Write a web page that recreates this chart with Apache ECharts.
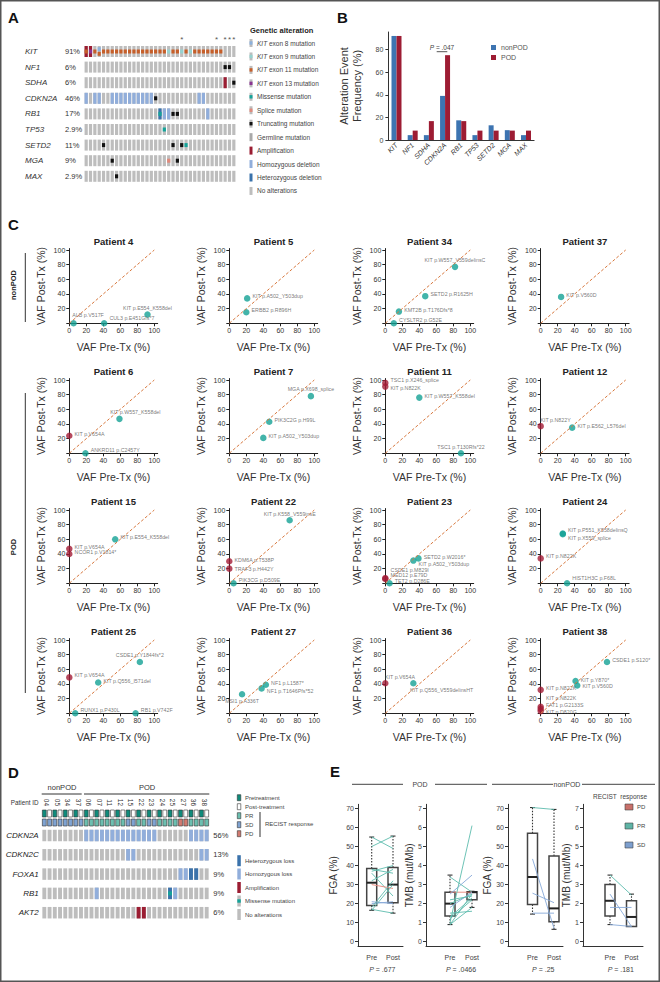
<!DOCTYPE html>
<html>
<head>
<meta charset="UTF-8">
<title>Figure</title>
<script src="https://cdn.jsdelivr.net/npm/echarts@6.0.0/dist/echarts.min.js"></script>
<style>
html, body { margin: 0; padding: 0; background: #fff; }
#fig { width: 660px; height: 982px; }
</style>
</head>
<body>
<div id="fig"></div>
<script>
var FONT = '"Liberation Sans", Arial, sans-serif';
var RED = '#a31c36', TEAL = '#14a195';

// ---- A: oncoprint (35 samples) ----
var aGenes = ['KIT', 'NF1', 'SDHA', 'CDKN2A', 'RB1', 'TP53', 'SETD2', 'MGA', 'MAX'];
var aPct = ['91%', '6%', '6%', '46%', '17%', '2.9%', '11%', '9%', '2.9%'];
var aStarCols = [22, 30, 32, 33, 34];
var altKIT = { amp: [0, 1], ex13: [1], ex8: [3], ex9: [19, 22, 24],
  ex11: [0, 2, 3, 4, 5, 6, 7, 8, 9, 10, 11, 12, 13, 14, 15, 16, 17, 18, 20, 21, 23, 25, 26, 27, 28, 29, 30, 31] };
var altNF1 = { trunc: [32, 33] };
var altSDHA = { amp: [32], trunc: [34] };
var altCDKN2A = { homdel: [0, 2, 3, 6, 7, 8, 9, 10, 11, 12, 13, 14, 15, 26, 27], trunc: [16] };
var altRB1 = { hetdel: [17], missense: [17], homdel: [18, 19, 28], trunc: [20, 21] };
var altTP53 = { missense: [18] };
var altSETD2 = { trunc: [4, 20, 22], missense: [23] };
var altMGA = { trunc: [6, 21], splice: [19] };
var altMAX = { trunc: [7] };
var aAlt = [altKIT, altNF1, altSDHA, altCDKN2A, altRB1, altTP53, altSETD2, altMGA, altMAX];
var aLegendTypes = ['ex8', 'ex9', 'ex11', 'ex13', 'missense', 'splice', 'trunc', 'germline', 'amp', 'homdel', 'hetdel', 'none'];
var aLegendText = ['{i|KIT} exon 8 mutation', '{i|KIT} exon 9 mutation', '{i|KIT} exon 11 mutation', '{i|KIT} exon 13 mutation',
  'Missense mutation', 'Splice mutation', 'Truncating mutation', 'Germline mutation', 'Amplification',
  'Homozygous deletion', 'Heterozygous deletion', 'No alterations'];

// ---- B: alteration frequency ----
var bGenes = ['KIT', 'NF1', 'SDHA', 'CDKN2A', 'RB1', 'TP53', 'SETD2', 'MGA', 'MAX'];
var bNonPOD = [92, 4.3, 4.3, 39, 17.4, 4.3, 13, 8.7, 4.3];
var bPOD = [92, 8.3, 16.7, 75, 16.7, 8.3, 8.3, 8.3, 8.3];

// ---- C: VAF pre vs post, [label, pre, post] ----
var cTitles = ['Patient 4', 'Patient 5', 'Patient 34', 'Patient 37', 'Patient 6', 'Patient 7', 'Patient 11', 'Patient 12',
  'Patient 15', 'Patient 22', 'Patient 23', 'Patient 24', 'Patient 25', 'Patient 27', 'Patient 36', 'Patient 38'];
var vaf4 = [['ALB p.V517F', 5, 0], ['CUL3 p.E451Gfs*7', 41, 0], ['KIT p.E554_K558del', 92, 12]];
var vaf5 = [['KIT p.A502_Y503dup', 21, 34], ['ERBB2 p.R896H', 20, 15]];
var vaf34 = [['KIT p.W557_V559delinsC', 82, 77], ['SETD2 p.R1625H', 47, 37], ['KMT2B p.T176Dfs*8', 16, 16], ['CYSLTR2 p.G52E', 10, 0]];
var vaf37 = [['KIT p.V560D', 24, 36]];
var vaf6 = [['KIT p.W557_K558del', 59, 47], ['KIT p.V654A', 0, 24], ['ANKRD11 p.C2457Y', 19, 0]];
var vaf7 = [['MGA p.X698_splice', 96, 78], ['PIK3C2G p.H99L', 47, 43], ['KIT p.A502_Y503dup', 40, 21]];
var vaf11 = [['TSC1 p.X246_splice', 0, 96], ['KIT p.N822K', 0, 91], ['KIT p.W557_K558del', 40, 76], ['TSC1 p.T130Rfs*22', 89, 0]];
var vaf12 = [['KIT p.N822Y', 0, 37], ['KIT p.E562_L576del', 37, 35]];
var vaf15 = [['KIT p.V654A', 0, 47], ['NCOR1 p.V1814*', 0, 40], ['KIT p.E554_K558del', 54, 60]];
var vaf22 = [['KIT p.K558_V559insE', 71, 86], ['KDM6A p.T538P', 0, 30], ['TRAF3 p.H442Y', 0, 20], ['PIK3CG p.D509E', 5, 0]];
var vaf23 = [['SETD2 p.W2016*', 39, 34], ['KIT p.A502_Y503dup', 33, 31], ['CSDE1 p.M829I', 0, 7], ['MED12 p.E79D', 0, 6], ['TET2 p.D286E', 5, 0]];
var vaf24 = [['KIT p.P551_K558delinsQ', 26, 68], ['KIT p.X559_splice', 26, 67], ['KIT p.N822K', 0, 34], ['HIST1H3C p.F68L', 31, 0]];
var vaf25 = [['CSDE1 p.Y1844fs*2', 83, 70], ['KIT p.V654A', 0, 49], ['KIT p.Q556_I571del', 34, 42], ['RUNX1 p.P430L', 7, 0], ['RB1 p.V742F', 78, 0]];
var vaf27 = [['NF1 p.L1587*', 43, 39], ['NF1 p.T1646Pfs*52', 38, 34], ['MSI1 p.A336T', 15, 26]];
var vaf36 = [['KIT p.V654A', 0, 41], ['KIT p.Q556_V559delinsHT', 33, 41]];
var vaf38 = [['CSDE1 p.S120*', 78, 70], ['KIT p.Y870*', 41, 44], ['KIT p.V560D', 43, 38], ['KIT p.N822K', 0, 32],
  ['KIT p.N822K', 0, 9], ['FAT1 p.G2133S', 0, 6], ['KIT p.D820G', 0, 3]];
var cVaf = [vaf4, vaf5, vaf34, vaf37, vaf6, vaf7, vaf11, vaf12, vaf15, vaf22, vaf23, vaf24, vaf25, vaf27, vaf36, vaf38];

// ---- D: CNV oncoprint (16 patients, pre/post) ----
var dPatients = ['04', '05', '34', '37', '06', '07', '11', '12', '15', '22', '23', '24', '25', '27', '36', '38'];
var dResp = ['SD', 'SD', 'SD', 'SD', 'PR', 'PR', 'PR', 'PR', 'SD', 'PR', 'SD', 'PR', 'PR', 'PD', 'PR', 'PR'];
var dGenes = ['CDKN2A', 'CDKN2C', 'FOXA1', 'RB1', 'AKT2'];
var dPct = ['56%', '13%', '9%', '9%', '6%'];
var dCDKN2A = { homdel: [8, 9, 10, 11, 12, 13, 14, 15, 16, 17, 18, 19, 20, 21, 28, 29, 30, 31] };
var dCDKN2C = { homdel: [16, 17, 30, 31] };
var dFOXA1 = { homdel: [26, 27], hetdel: [28, 29] };
var dRB1 = { homdel: [10, 25], hetdel: [24], missense: [24] };
var dAKT2 = { amp: [18, 19] };
var dAlt = [dCDKN2A, dCDKN2C, dFOXA1, dRB1, dAKT2];

// ---- E: FGA / TMB pre vs post ----
var fgaPodPre = [55, 50, 38, 37, 36, 32, 30, 21, 20, 18, 17, 16.5];
var fgaPodPost = [49, 55.5, 36, 40, 24, 38, 28, 20, 21, 32, 15, 30];
var fgaPodResp = ['PR', 'PR', 'PR', 'PR', 'PR', 'PR', 'PD', 'SD', 'SD', 'PR', 'PR', 'PR'];
var tmbPodPre = [3.4, 2.6, 2.5, 1.0, 2.0, 1.8, 1.3, 0.9, 0.9, 1.2, 1.5, 2.2];
var tmbPodPost = [2.6, 2.6, 3.5, 6.1, 2.5, 2.6, 2.3, 2.5, 1.8, 2.2, 1.6, 2.4];
var tmbPodResp = ['PR', 'PD', 'SD', 'PR', 'PR', 'SD', 'PR', 'PR', 'PR', 'PR', 'PR', 'PR'];
var fgaNonPre = [70.5, 43.5, 25.5, 15];
var fgaNonPost = [69.5, 7, 20.5, 15];
var tmbNonPre = [3.5, 2.5, 1.8, 0.9];
var tmbNonPost = [2.45, 0.8, 1.8, 0.8];
var nonResp = ['PR', 'SD', 'SD', 'SD'];
// box stats: [min, q1, median, q3, max]
var fgaPodBox = [[16.5, 19, 31, 38.5, 55], [15, 20.5, 30, 39, 55.5]];
var tmbPodBox = [[0.9, 1.35, 2.0, 2.6, 3.5], [1.8, 2.2, 2.6, 2.62, 2.65]];
var fgaNonBox = [[14.5, 19.5, 34, 57, 70.5], [6.5, 10.5, 17.5, 45, 69.5]];
var tmbNonBox = [[0.9, 1.35, 2.15, 3.0, 3.5], [0.8, 0.8, 1.3, 2.15, 2.5]];
var ePvals = ['.677', '.0466', '.25', '.181'];

// ---------- colours ----------
var typeColor = { ex8: '#8db1dc', ex9: '#96d2cf', ex11: '#c65f2a', ex13: '#8b3592', missense: '#15a399',
  splice: '#e08a7c', trunc: '#111111', germline: '#a9a9a9', amp: '#9b1d32', homdel: '#91aedb',
  hetdel: '#3a72ab', none: '#bdbdbd', pre: '#0f8b7b', post: '#ffffff', PR: '#6cbfb0', SD: '#7fa3d2', PD: '#d27a70' };
var typeList = Object.keys(typeColor);
var fullTypes = ['amp', 'homdel', 'hetdel', 'germline', 'none'];
var respLine = { PR: '#5dbcae', SD: '#86a8d8', PD: '#e8867a' };

function buildCells(altList, ncol) {
  var out = [];
  altList.forEach(function (alt, r) {
    for (var c = 0; c < ncol; c++) out.push([c, r, typeList.indexOf('none'), 0, 1]);
    var muts = {};
    Object.keys(alt).forEach(function (t) {
      alt[t].forEach(function (c) {
        if (fullTypes.indexOf(t) >= 0) out.push([c, r, typeList.indexOf(t), 0, 1]);
        else (muts[c] = muts[c] || []).push(t);
      });
    });
    Object.keys(muts).forEach(function (c) {
      muts[c].forEach(function (t, k) { out.push([+c, r, typeList.indexOf(t), k, muts[c].length]); });
    });
  });
  return out;
}

function cellItem(barW, barH, mutH) {
  return function (params, api) {
    var p = api.coord([api.value(0), api.value(1)]);
    var t = typeList[api.value(2)];
    if (fullTypes.indexOf(t) >= 0) {
      return { type: 'rect', shape: { x: p[0] - barW / 2, y: p[1] - barH / 2, width: barW, height: barH }, style: { fill: typeColor[t] } };
    }
    var n = api.value(4), k = api.value(3);
    var cy = p[1] + (n > 1 ? (k - (n - 1) / 2) * mutH * 1.15 : 0);
    return { type: 'rect', shape: { x: p[0] - barW / 2, y: cy - mutH / 2, width: barW, height: mutH }, style: { fill: typeColor[t] } };
  };
}

var grids = [], xAxes = [], yAxes = [], series = [], g = [];
function addGrid(o) { grids.push(o); return grids.length - 1; }
function addX(o) { xAxes.push(o); return xAxes.length - 1; }
function addY(o) { yAxes.push(o); return yAxes.length - 1; }
function txt(x, y, s, st, extra) {
  var e = { type: 'text', x: x, y: y, silent: true,
    style: Object.assign({ text: s, fontFamily: FONT, fontSize: 7, fill: '#333', align: 'left', verticalAlign: 'middle' }, st || {}) };
  return Object.assign(e, extra || {});
}
function hline(x1, x2, y, color, w) {
  return { type: 'line', silent: true, shape: { x1: x1, y1: y, x2: x2, y2: y }, style: { stroke: color || '#333', lineWidth: w || 1 } };
}
function vline(x, y1, y2, color, w) {
  return { type: 'line', silent: true, shape: { x1: x, y1: y1, x2: x, y2: y2 }, style: { stroke: color || '#333', lineWidth: w || 1 } };
}
function swatch(x, y, w, h, fill, stroke) {
  return { type: 'rect', silent: true, shape: { x: x, y: y, width: w, height: h },
    style: { fill: fill, stroke: stroke || null, lineWidth: stroke ? 0.6 : 0 } };
}

// ---------- Panel A ----------
var aCols = []; for (var i = 0; i < 35; i++) aCols.push('s' + i);
var gA = addGrid({ left: 84, top: 43.7, width: 152, height: 140.4 });
var xA = addX({ gridIndex: gA, type: 'category', data: aCols, show: false });
addX({ gridIndex: gA, type: 'category', data: aCols, position: 'top', axisLine: { show: false }, axisTick: { show: false },
  axisLabel: { interval: 0, margin: 0, fontSize: 8, color: '#555', formatter: function (v, i) { return aStarCols.indexOf(i) >= 0 ? '*' : ''; } } });
var yA = addY({ gridIndex: gA, type: 'category', data: aGenes, inverse: true, axisLine: { show: false }, axisTick: { show: false },
  axisLabel: { align: 'left', margin: 59, interval: 0,
    formatter: function (v, i) { return '{g|' + v + '}{p|' + aPct[i] + '}'; },
    rich: { g: { width: 40, fontStyle: 'italic', fontSize: 8, color: '#333', fontFamily: FONT }, p: { fontSize: 7.5, color: '#333', fontFamily: FONT } } } });
series.push({ type: 'custom', xAxisIndex: xA, yAxisIndex: yA, silent: true, renderItem: cellItem(3.2, 11, 4), data: buildCells(aAlt, 35) });

g.push(txt(250, 30, 'Genetic alteration', { fontSize: 7.5, fontWeight: 'bold', fill: '#222' }));
aLegendTypes.forEach(function (t, i) {
  var y = 43 + i * 13.45;
  if (fullTypes.indexOf(t) >= 0) g.push(swatch(249.5, y - 4, 3, 8, typeColor[t]));
  else { g.push(swatch(249.5, y - 4, 3, 8, typeColor.none)); g.push(swatch(249.5, y - 1.7, 3, 3.4, typeColor[t])); }
  g.push(txt(257, y, aLegendText[i], { fontSize: 6.5, fill: '#444', rich: { i: { fontStyle: 'italic', fontSize: 6.5, fontFamily: FONT, fill: '#444' } } }));
});

// ---------- Panel B ----------
var gB = addGrid({ left: 388.4, top: 32, width: 145.7, height: 108 });
var xB = addX({ gridIndex: gB, type: 'category', data: bGenes, axisLine: { lineStyle: { color: '#333' } }, axisTick: { show: false },
  axisLabel: { interval: 0, rotate: 45, fontSize: 7, fontStyle: 'italic', color: '#333', margin: 4 } });
var yB = addY({ gridIndex: gB, type: 'value', min: 0, max: 95.5, splitLine: { show: false },
  axisLine: { show: true, lineStyle: { color: '#333' } },
  axisTick: { show: true, length: 3, customValues: [0, 20, 40, 60, 80] },
  axisLabel: { customValues: [0, 20, 40, 60, 80], fontSize: 7, color: '#444', margin: 5 },
  name: 'Alteration Event\nFrequency (%)', nameLocation: 'middle', nameGap: 25,
  nameTextStyle: { fontSize: 11, color: '#333', lineHeight: 13, fontFamily: FONT } });
series.push({ type: 'bar', name: 'nonPOD', xAxisIndex: xB, yAxisIndex: yB, data: bNonPOD, barWidth: 5, barGap: '0%', itemStyle: { color: '#3d74b1' } });
series.push({ type: 'bar', name: 'POD', xAxisIndex: xB, yAxisIndex: yB, data: bPOD, barWidth: 5, barGap: '0%', itemStyle: { color: '#9d1c33' } });
g.push(txt(442, 47, '{i|P} = .047', { fontSize: 6.5, fill: '#444', align: 'center', rich: { i: { fontStyle: 'italic', fontSize: 6.5, fontFamily: FONT, fill: '#444' } } }));
g.push(hline(436.7, 447.3, 51.7, '#555', 1));

// ---------- Panel C ----------
var cX0 = [69.3, 229.3, 385.3, 540.7], cY0 = [323.3, 453.3, 583.3, 713.3];
var cSX = 0.85, cSY = 0.733, cXMax = 104, cYMax = 102;
// label placement: centred above / below, fixed box offset, or vertical nudge (px) for labels on the right
var cLabelTop = ['0-2', '2-0', '5-0', '6-3', '9-0', '12-0'];
var cLabelBottom = ['13-2'];
var cLabelFixed = { '14-1': [0, 8], '7-0': [3, -5], '14-0': [3, -5], '4-0': [-6, -6], '0-0': [2, -8] };
var cLabelDy = { '0-1': -5, '4-2': -3.5, '6-0': -2.5, '6-1': 1, '9-1': -1.5, '9-2': 0, '9-3': -3,
  '10-0': -1, '10-1': 3.5, '10-2': -8.5, '10-3': -4, '10-4': -2.5, '11-0': -3.5, '11-1': 3.5, '11-3': -5,
  '12-3': -3, '12-4': -3, '13-0': -1.5, '13-1': 3, '2-3': -3, '15-1': -1.5, '15-2': 0.5, '15-3': -2,
  '15-4': -8.5, '15-5': -3.5, '15-6': 0.5 };
cVaf.forEach(function (list, pi) {
  var col = pi % 4, row = Math.floor(pi / 4);
  var h = cYMax * cSY, w = cXMax * cSX;
  var gi = addGrid({ left: cX0[col], top: cY0[row] - h, width: w, height: h });
  var xi = addX({ gridIndex: gi, type: 'value', min: 0, max: cXMax, splitLine: { show: false },
    axisLine: { onZero: false, lineStyle: { color: '#222' } },
    axisTick: { length: 3, customValues: [0, 20, 40, 60, 80, 100], lineStyle: { color: '#222' } },
    axisLabel: { customValues: [0, 20, 40, 60, 80, 100], fontSize: 7, color: '#333', margin: 4 },
    name: 'VAF Pre-Tx (%)', nameLocation: 'middle', nameGap: 18, nameTextStyle: { fontSize: 10.5, color: '#333', fontFamily: FONT } });
  var yi = addY({ gridIndex: gi, type: 'value', min: 0, max: cYMax, splitLine: { show: false },
    axisLine: { show: true, onZero: false, lineStyle: { color: '#222' } },
    axisTick: { show: true, length: 3, customValues: [0, 20, 40, 60, 80, 100], lineStyle: { color: '#222' } },
    axisLabel: { customValues: [20, 40, 60, 80, 100], fontSize: 7, color: '#333', margin: 4 },
    name: 'VAF Post-Tx (%)', nameLocation: 'middle', nameGap: 23, nameTextStyle: { fontSize: 10.5, color: '#333', fontFamily: FONT } });
  series.push({ type: 'line', xAxisIndex: xi, yAxisIndex: yi, data: [], z: 1, silent: true,
    markLine: { silent: true, symbol: ['none', 'none'], animation: false, label: { show: false },
      lineStyle: { color: '#d8793f', width: 1, type: [3, 2] },
      data: [[{ coord: [0, 0] }, { coord: [100, 100] }]] } });
  var items = list.map(function (v, vi) {
    var key = pi + '-' + vi;
    var it = { name: v[0], value: [v[1], v[2]], itemStyle: { color: v[1] === 0 ? RED : TEAL } };
    if (cLabelTop.indexOf(key) >= 0) it.label = { position: 'top', offset: [0, 0], distance: 1 };
    else if (cLabelBottom.indexOf(key) >= 0) it.label = { position: 'bottom', offset: [0, 0], distance: 1 };
    else if (cLabelFixed[key]) it.label = { position: cLabelFixed[key], align: 'left', verticalAlign: 'top', offset: [0, 0] };
    else if (cLabelDy[key] !== undefined) it.label = { offset: [0, cLabelDy[key]] };
    return it;
  });
  series.push({ type: 'scatter', xAxisIndex: xi, yAxisIndex: yi, data: items, symbolSize: 6.5, z: 3,
    label: { show: true, formatter: function (p) { return p.name; }, position: 'right', distance: 2, offset: [0, -2],
      fontSize: 5.3, color: '#555', fontFamily: FONT } });
  g.push(txt(cX0[col] + w / 2, cY0[row] - h - 7, cTitles[pi], { fontSize: 9.5, fontWeight: 'bold', fill: '#222', align: 'center' }));
});
g.push(vline(25.3, 253, 322, '#333', 1));
g.push(vline(25.3, 393, 693, '#333', 1));
g.push(txt(13, 285, 'nonPOD', { fontSize: 7.5, fontWeight: 'bold', fill: '#222', align: 'center' }, { rotation: Math.PI / 2 }));
g.push(txt(13, 547, 'POD', { fontSize: 7.5, fontWeight: 'bold', fill: '#222', align: 'center' }, { rotation: Math.PI / 2 }));

// ---------- Panel D ----------
var dCols = []; for (var j = 0; j < 32; j++) dCols.push('c' + j);
var gDa = addGrid({ left: 41.7, top: 809, width: 167.6, height: 18 });
var xDa = addX({ gridIndex: gDa, type: 'category', data: dCols, show: false });
addX({ gridIndex: gDa, type: 'category', data: dPatients, position: 'top', axisLine: { show: false }, axisTick: { show: false },
  axisLabel: { interval: 0, rotate: 90, fontSize: 6.5, color: '#333', margin: 3 } });
var yDa = addY({ gridIndex: gDa, type: 'category', data: ['treat', 'resp'], inverse: true, show: false });
var dAnnot = [];
for (var c = 0; c < 32; c++) {
  dAnnot.push([c, 0, typeList.indexOf(c % 2 === 0 ? 'pre' : 'post')]);
  dAnnot.push([c, 1, typeList.indexOf(dResp[Math.floor(c / 2)])]);
}
series.push({ type: 'custom', xAxisIndex: xDa, yAxisIndex: yDa, silent: true, data: dAnnot,
  renderItem: function (params, api) {
    var p = api.coord([api.value(0), api.value(1)]);
    return { type: 'rect', shape: { x: p[0] - 1.95, y: p[1] - 3.5, width: 3.9, height: 7 },
      style: { fill: typeColor[typeList[api.value(2)]], stroke: '#333', lineWidth: 0.6 } };
  } });
var gD = addGrid({ left: 41.7, top: 825.85, width: 167.6, height: 96.5 });
var xD = addX({ gridIndex: gD, type: 'category', data: dCols, show: false });
var yD = addY({ gridIndex: gD, type: 'category', data: dGenes, inverse: true, axisLine: { show: false }, axisTick: { show: false },
  axisLabel: { interval: 0, margin: 3, fontSize: 8, fontStyle: 'italic', color: '#222' } });
addY({ gridIndex: gD, type: 'category', data: dGenes, inverse: true, position: 'right', axisLine: { show: false }, axisTick: { show: false },
  axisLabel: { interval: 0, margin: 4, fontSize: 7.5, color: '#333', formatter: function (v, i) { return dPct[i]; } } });
series.push({ type: 'custom', xAxisIndex: xD, yAxisIndex: yD, silent: true, renderItem: cellItem(3.9, 11.5, 4), data: buildCells(dAlt, 32) });

g.push(txt(62, 787, 'nonPOD', { fontSize: 7.5, fill: '#333', align: 'center' }));
g.push(hline(41.7, 81.7, 794, '#333', 1));
g.push(txt(147, 787, 'POD', { fontSize: 7.5, fill: '#333', align: 'center' }));
g.push(hline(84, 209.3, 794, '#333', 1));
g.push(txt(38.5, 802, 'Patient ID', { fontSize: 6.3, fill: '#333', align: 'right' }));
var dLeg1 = [['pre', 'Pretreatment', 797.7], ['post', 'Post-treatment', 806.7], ['PR', 'PR', 815.7], ['SD', 'SD', 824.7], ['PD', 'PD', 833.7]];
dLeg1.forEach(function (d) {
  g.push(swatch(237.3, d[2] - 3, 3.5, 6, typeColor[d[0]], '#333'));
  g.push(txt(245, d[2], d[1], { fontSize: 6, fill: '#444' }));
});
g.push(vline(260, 812, 837, '#333', 1));
g.push(txt(265, 824, 'RECIST response', { fontSize: 6, fill: '#444' }));
var dLeg2 = [['hetdel', 'Heterozygous loss', 860.7], ['homdel', 'Homozygous loss', 874], ['amp', 'Amplification', 887.5],
  ['missense', 'Missense mutation', 901], ['none', 'No alterations', 914.5]];
dLeg2.forEach(function (d) {
  if (d[0] === 'missense') { g.push(swatch(237.3, d[2] - 5.5, 3.5, 11, typeColor.none)); g.push(swatch(237.3, d[2] - 1.7, 3.5, 3.4, typeColor.missense)); }
  else g.push(swatch(237.3, d[2] - 5.5, 3.5, 11, typeColor[d[0]]));
  g.push(txt(245, d[2], d[1], { fontSize: 6, fill: '#444' }));
});

// ---------- Panel E ----------
var eLayout = [[358, 371.7, 393, 403], [426, 450, 472, 480], [508, 532.5, 554, 563], [583, 610, 631.5, 643]];
var eIsTMB = [false, true, false, true];
var eNames = ['FGA (%)', 'TMB (mut/Mb)', 'FGA (%)', 'TMB (mut/Mb)'];
var eNameGap = [20, 5, 12, 5];
var eBoxes = [fgaPodBox, tmbPodBox, fgaNonBox, tmbNonBox];
var ePairs = [[fgaPodPre, fgaPodPost, fgaPodResp], [tmbPodPre, tmbPodPost, tmbPodResp], [fgaNonPre, fgaNonPost, nonResp], [tmbNonPre, tmbNonPost, nonResp]];
var fgaTicks = [0, 10, 20, 30, 40, 50, 60, 70], tmbTicks = [0, 1, 2, 3, 4, 5, 6, 7];

function boxItem(params, api) {
  var x = api.value(0);
  var pMin = api.coord([x, api.value(1)]), pQ1 = api.coord([x, api.value(2)]), pMed = api.coord([x, api.value(3)]);
  var pQ3 = api.coord([x, api.value(4)]), pMax = api.coord([x, api.value(5)]);
  var cx = pMed[0], bw = 10, cap = 2.5;
  var dash = { stroke: '#333', lineWidth: 1.1, lineDash: [1.5, 1.5] };
  var solid = { stroke: '#333', lineWidth: 1.1 };
  return { type: 'group', children: [
    { type: 'line', shape: { x1: cx, y1: pQ3[1], x2: cx, y2: pMax[1] }, style: dash },
    { type: 'line', shape: { x1: cx, y1: pQ1[1], x2: cx, y2: pMin[1] }, style: dash },
    { type: 'line', shape: { x1: cx - cap, y1: pMax[1], x2: cx + cap, y2: pMax[1] }, style: solid },
    { type: 'line', shape: { x1: cx - cap, y1: pMin[1], x2: cx + cap, y2: pMin[1] }, style: solid },
    { type: 'rect', shape: { x: cx - bw / 2, y: pQ3[1], width: bw, height: pQ1[1] - pQ3[1] }, style: { fill: 'none', stroke: '#444', lineWidth: 1.5 } },
    { type: 'line', shape: { x1: cx - bw / 2, y1: pMed[1], x2: cx + bw / 2, y2: pMed[1] }, style: { stroke: '#222', lineWidth: 2 } }
  ] };
}

eLayout.forEach(function (L, k) {
  var step = L[2] - L[1];
  var ymin = eIsTMB[k] ? -0.25 : -2.5, ymax = eIsTMB[k] ? 7.22 : 72.2;
  var ticks = eIsTMB[k] ? tmbTicks : fgaTicks;
  var gi = addGrid({ left: L[0], top: 804.3, width: L[3] - L[0], height: 142.15 });
  var xi = addX({ gridIndex: gi, type: 'value', min: 1 - (L[1] - L[0]) / step, max: 2 + (L[3] - L[2]) / step,
    splitLine: { show: false }, axisLine: { onZero: false, lineStyle: { color: '#333' } }, axisTick: { show: false },
    axisLabel: { customValues: [1, 2], fontSize: 7, color: '#444', margin: 8, formatter: function (v) { return v === 1 ? 'Pre' : 'Post'; } } });
  var yi = addY({ gridIndex: gi, type: 'value', min: ymin, max: ymax, splitLine: { show: false },
    axisLine: { show: true, onZero: false, lineStyle: { color: '#333' } },
    axisTick: { show: true, length: 3, customValues: ticks },
    axisLabel: { customValues: ticks, fontSize: 7, color: '#444', margin: 4 },
    name: eNames[k], nameLocation: 'middle', nameGap: eNameGap[k], nameTextStyle: { fontSize: 10, color: '#333', fontFamily: FONT } });
  var bx = eBoxes[k];
  series.push({ type: 'custom', xAxisIndex: xi, yAxisIndex: yi, silent: true, z: 2, renderItem: boxItem,
    data: [[1].concat(bx[0]), [2].concat(bx[1])] });
  var pr = ePairs[k];
  pr[0].forEach(function (v, n) {
    series.push({ type: 'line', xAxisIndex: xi, yAxisIndex: yi, silent: true, z: 3, symbol: 'none',
      data: [[1, v], [2, pr[1][n]]], lineStyle: { color: respLine[pr[2][n]], width: 0.9 } });
  });
  g.push(txt((L[1] + L[2]) / 2, 969, '{i|P} = ' + ePvals[k], { fontSize: 7, fill: '#444', align: 'center',
    rich: { i: { fontStyle: 'italic', fontSize: 7, fontFamily: FONT, fill: '#444' } } }));
});
g.push(hline(352, 403, 784.3, '#444', 1));
g.push(hline(435, 487, 784.3, '#444', 1));
g.push(txt(420, 784, 'POD', { fontSize: 7, fill: '#444', align: 'center' }));
g.push(hline(492, 553, 784.3, '#444', 1));
g.push(hline(582, 655, 784.3, '#444', 1));
g.push(txt(567, 784, 'nonPOD', { fontSize: 7, fill: '#444', align: 'center' }));
g.push(txt(593, 796, 'RECIST  response', { fontSize: 6.5, fill: '#444' }));
[['PD', '#c8706a', 807], ['PR', '#5fb4a6', 826], ['SD', '#7d9fce', 845]].forEach(function (d) {
  g.push(swatch(625, d[2] - 3, 8, 6, d[1], '#444'));
  g.push(txt(637, d[2], d[0], { fontSize: 6, fill: '#444' }));
});

// ---------- panel letters & frame ----------
[['A', 8, 17], ['B', 337, 17], ['C', 8, 224], ['D', 8, 772], ['E', 330, 771]].forEach(function (d) {
  g.push(txt(d[1], d[2], d[0], { fontSize: 15, fontWeight: 'bold', fill: '#111' }));
});
g.push({ type: 'rect', silent: true, shape: { x: 0.75, y: 0.75, width: 658.5, height: 980.5 }, style: { fill: 'none', stroke: '#555', lineWidth: 1.5 } });

var chart = echarts.init(document.getElementById('fig'), null, { renderer: 'svg', width: 660, height: 982 });
chart.setOption({
  animation: false,
  backgroundColor: '#fff',
  textStyle: { fontFamily: FONT },
  legend: { data: ['nonPOD', 'POD'], left: 491, top: 44, orient: 'vertical', itemWidth: 5, itemHeight: 5, itemGap: 3,
    icon: 'rect', padding: 0, textStyle: { fontSize: 7, color: '#555', fontFamily: FONT } },
  grid: grids,
  xAxis: xAxes,
  yAxis: yAxes,
  series: series,
  graphic: g
});
</script>
</body>
</html>
